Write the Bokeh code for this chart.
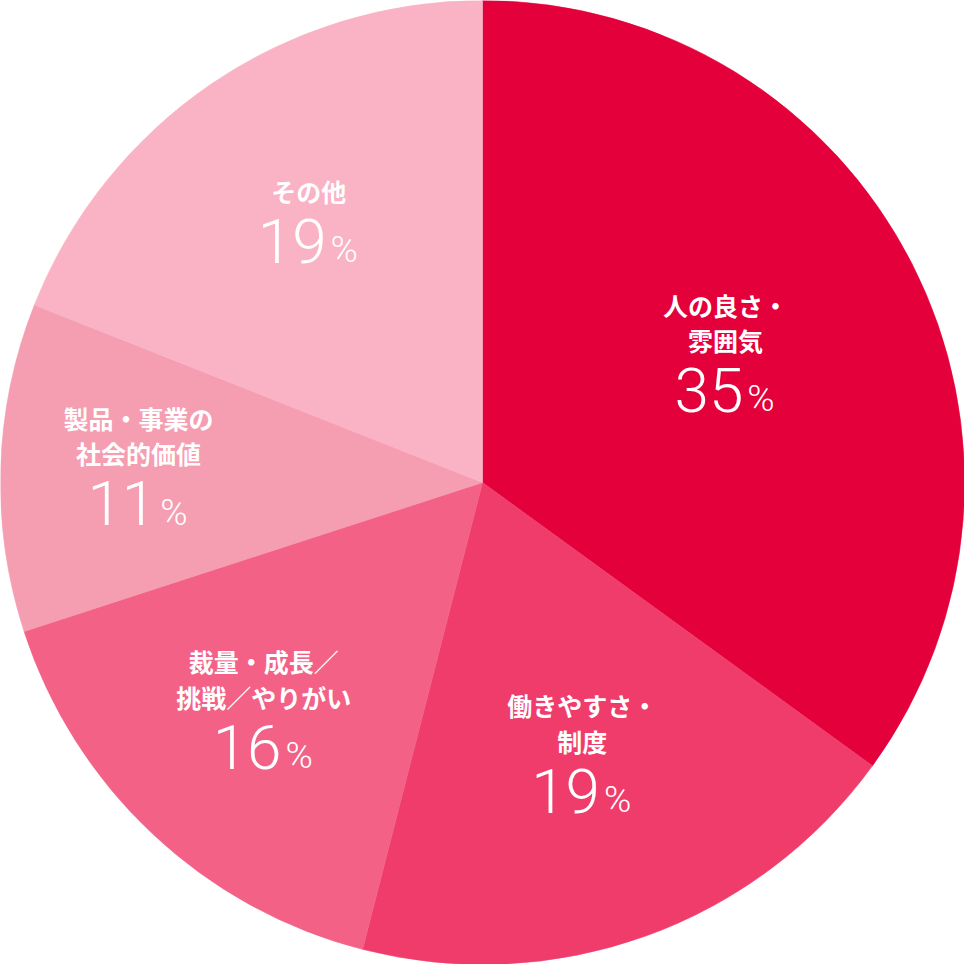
import math

from bokeh.core.properties import value
from bokeh.embed import file_html
from bokeh.models import ColumnDataSource, Range1d
from bokeh.plotting import figure
from bokeh.resources import INLINE

# slices, clockwise from 12 o'clock
label_lines = [
    ["人の良さ・", "雰囲気"],
    ["働きやすさ・", "制度"],
    ["裁量・成長／", "挑戦／やりがい"],
    ["製品・事業の", "社会的価値"],
    ["その他"],
]
shares = [35, 19, 16, 11, 19]
colors = ["#E4003A", "#F03C6B", "#F36286", "#F59DB1", "#FAB2C5"]

# how far out each label block sits, as a share of the radius
label_r = [0.566, 0.611, 0.663, 0.714, 0.641]

SIZE = 964
R = SIZE / 2
k = R / 490.0  # reference was drawn at radius 490

total = sum(shares)
starts, ends, mids = [], [], []
acc = 0
for s in shares:
    a0 = math.pi / 2 - 2 * math.pi * acc / total
    acc += s
    a1 = math.pi / 2 - 2 * math.pi * acc / total
    starts.append(a1)
    ends.append(a0)
    mids.append((a0 + a1) / 2)

src = ColumnDataSource(dict(start=starts, end=ends, color=colors))

p = figure(width=SIZE, height=SIZE, output_backend="svg", toolbar_location=None,
           x_range=Range1d(-R, R), y_range=Range1d(-R, R),
           min_border=0, outline_line_color=None)
p.axis.visible = False
p.grid.visible = False
p.background_fill_color = "white"
p.border_fill_color = "white"

p.wedge(x=0, y=0, radius=R, start_angle="start", end_angle="end",
        fill_color="color", line_color="color", line_width=0.6, source=src)

lx, ly, lt = [], [], []
nx, ny, py, nt = [], [], [], []
for lines, s, m, fr in zip(label_lines, shares, mids, label_r):
    cx = R * fr * math.cos(m)
    cy = R * fr * math.sin(m)
    n = len(lines)
    base = cy - (74 + 36 * (n - 1)) / 2 * k  # number baseline
    for i, t in enumerate(lines):
        lx.append(cx)
        ly.append(base + (74 + 36 * (n - 1 - i)) * k)
        lt.append(t)
    nx.append(cx)
    ny.append(base + 23 * k)
    py.append(base + 14 * k)
    nt.append(str(s))

p.text(x=lx, y=ly, text=lt, text_align="center", text_baseline="middle",
       text_color="white", text_font=value("Noto Sans CJK JP"),
       text_font_style="bold", text_font_size="25px")
p.text(x=[x + 18 * k for x in nx], y=ny, text=nt, text_align="right",
       text_baseline="middle", text_color="white",
       text_font=value("Roboto Light"), text_font_size="62px")
p.text(x=[x + 22 * k for x in nx], y=py, text=["%"] * len(nt), text_align="left",
       text_baseline="middle", text_color="white",
       text_font=value("Roboto Light"), text_font_size="37px")

open("out.html", "w").write(file_html(p, INLINE))
